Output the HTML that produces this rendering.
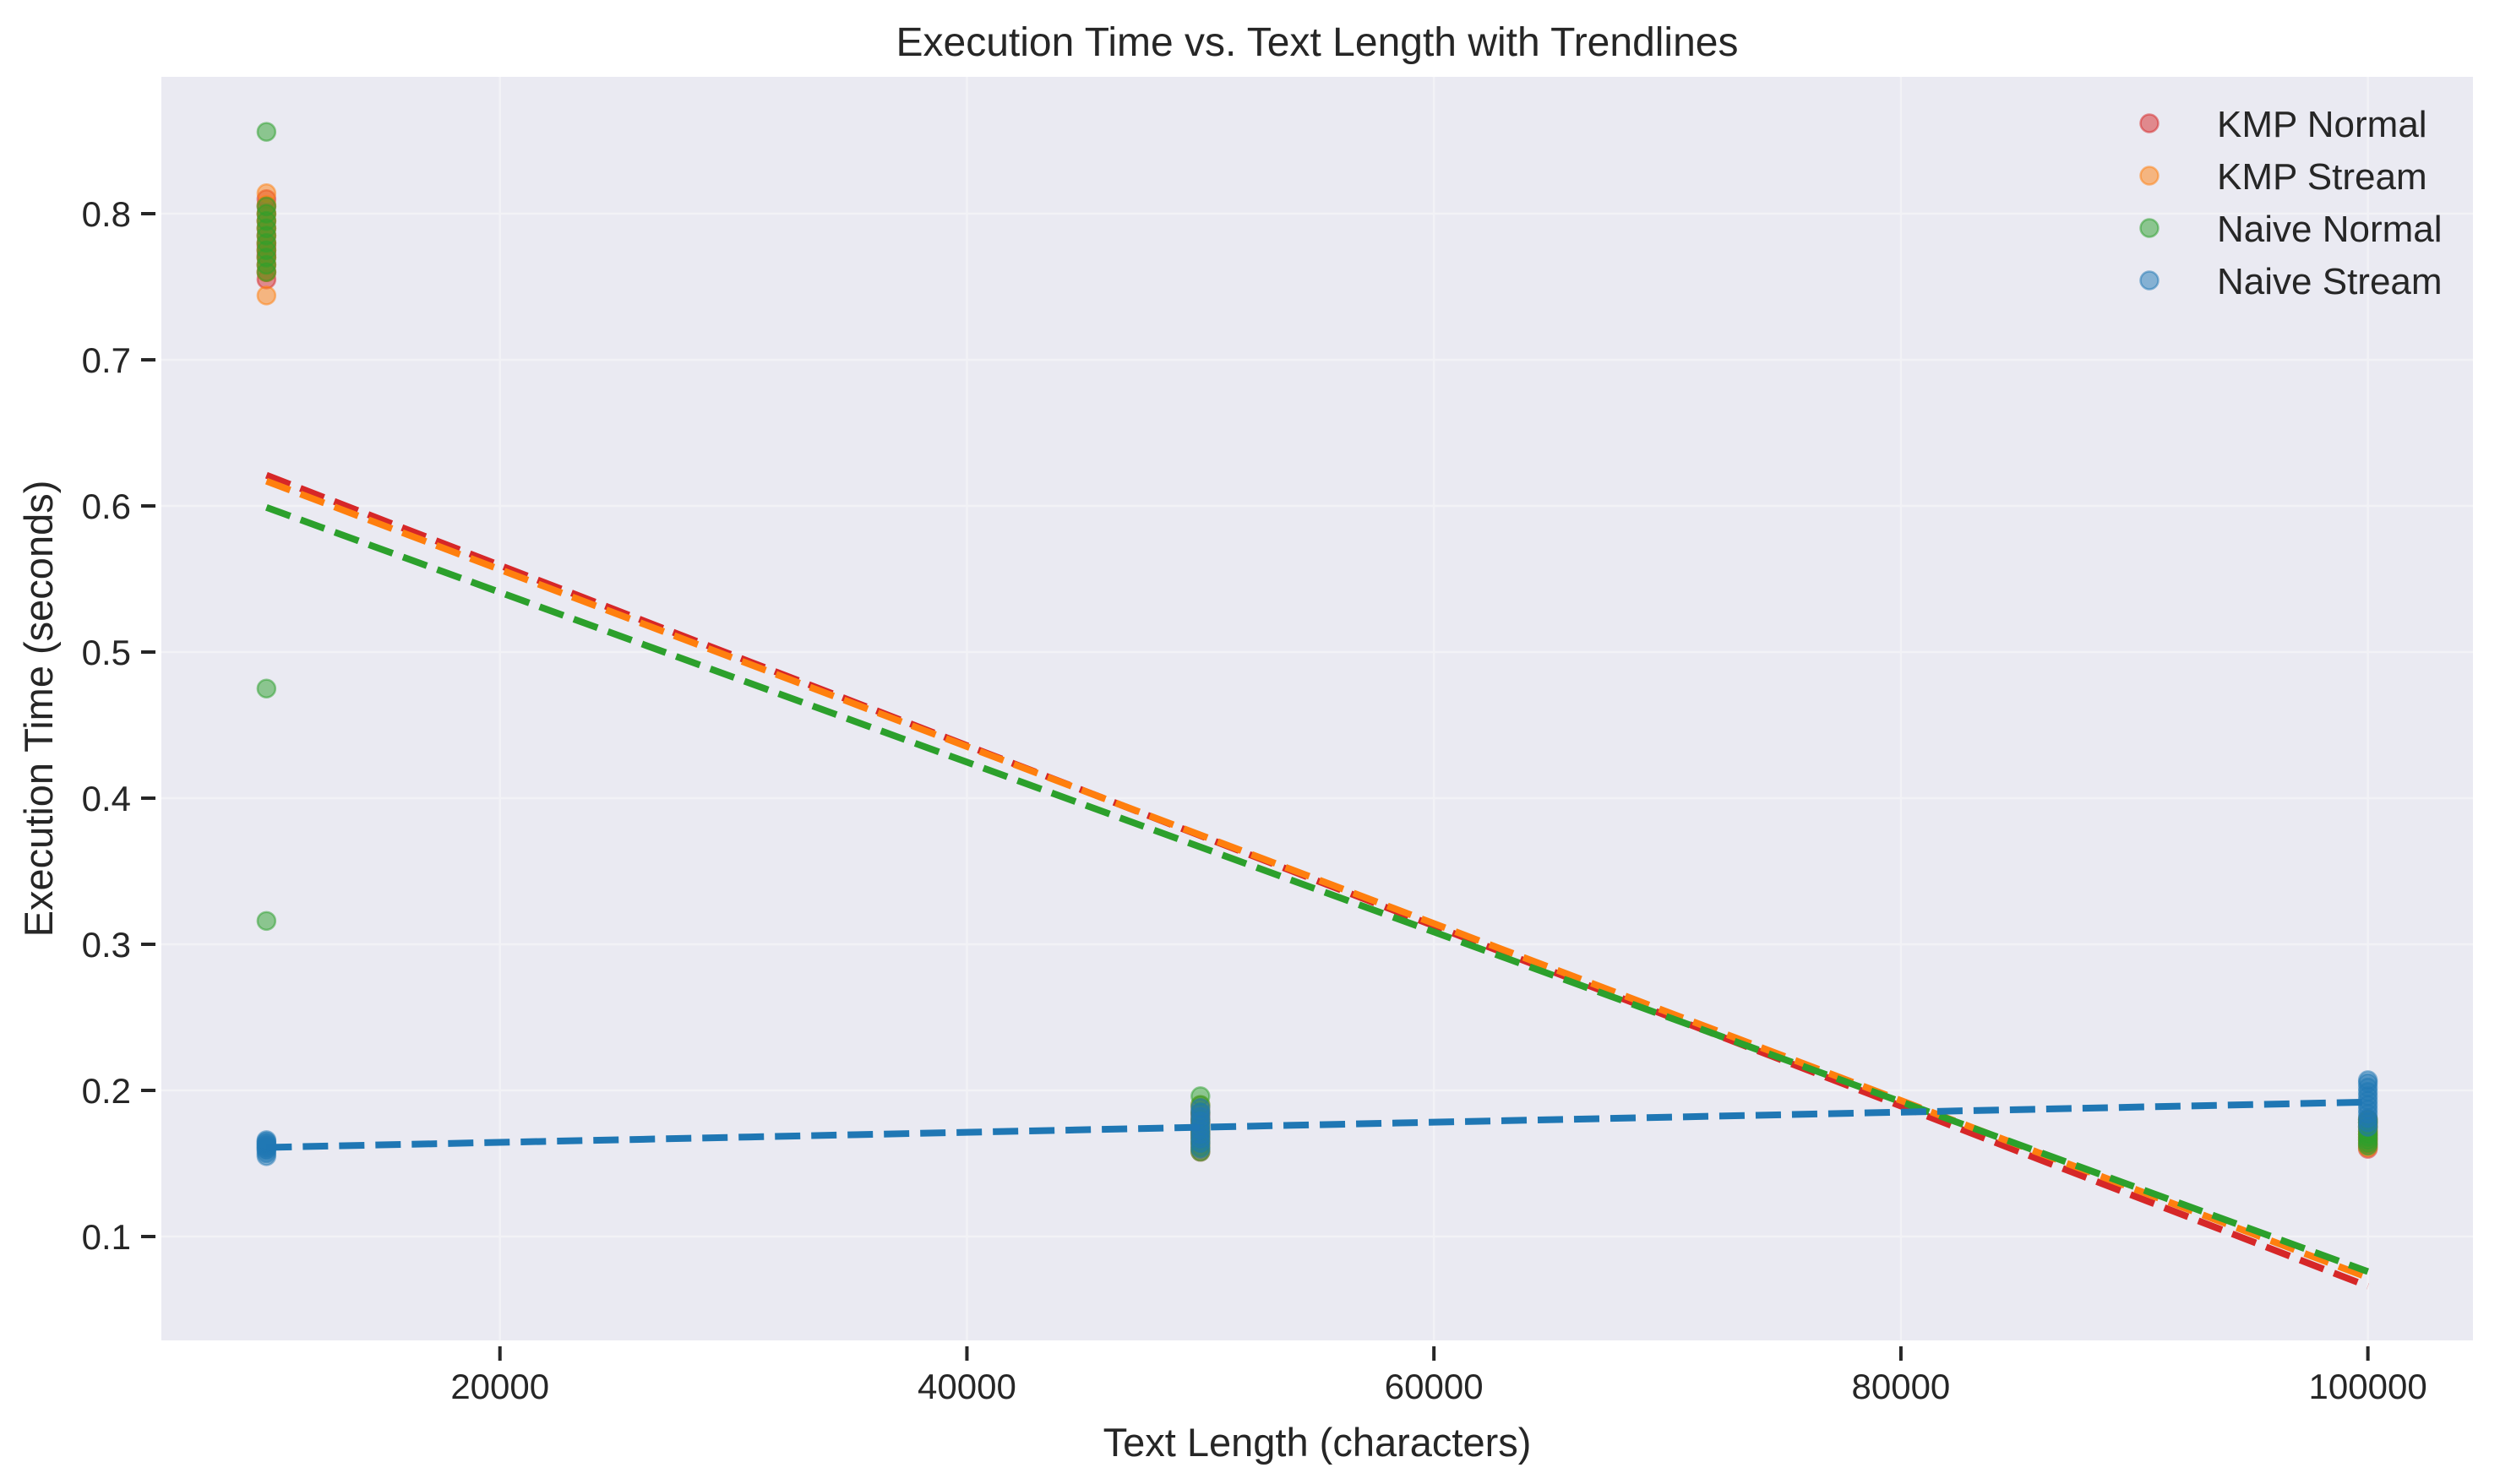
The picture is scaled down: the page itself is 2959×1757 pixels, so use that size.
<!DOCTYPE html>
<html><head><meta charset="utf-8">
<style>
html,body{margin:0;padding:0;background:#fff;}
svg{display:block;font-family:"Liberation Sans",Arial,sans-serif;}
</style></head>
<body>
<svg id="chart" width="2959" height="1757" viewBox="0 0 2959 1757" xmlns="http://www.w3.org/2000/svg">
<rect x="0" y="0" width="2959" height="1757" fill="#ffffff"/>
<rect x="191" y="91" width="2736" height="1496" fill="#eaeaf2"/>
<g id="grid"></g>
<g id="axes"></g>
<g id="marks"></g>
<text x="1559" y="66" text-anchor="middle" font-size="48" fill="#262626">Execution Time vs. Text Length with Trendlines</text>
<text x="1559" y="1724" text-anchor="middle" font-size="47" fill="#262626">Text Length (characters)</text>
<text x="0" y="0" transform="translate(62,839) rotate(-90)" text-anchor="middle" font-size="47" fill="#262626">Execution Time (seconds)</text>
<g id="legend"></g>
</svg>
<script>
const xTicks = [20000, 40000, 60000, 80000, 100000];
const yTicks = [0.1, 0.2, 0.3, 0.4, 0.5, 0.6, 0.7, 0.8];
const seriesNames = ["KMP Normal", "KMP Stream", "Naive Normal", "Naive Stream"];
const seriesColors = ["#d62728", "#ff7f0e", "#2ca02c", "#1f77b4"];
const textLengths = [10000, 50000, 100000];

const kmpNormal10k = [0.755,0.760,0.765,0.770,0.775,0.780,0.785,0.790,0.795,0.800,0.805,0.810,0.772,0.778];
const kmpNormal50k = [0.158,0.162,0.165,0.168,0.170,0.172,0.175,0.178,0.180,0.183,0.185];
const kmpNormal100k = [0.160,0.163,0.166,0.168,0.170,0.172,0.175,0.178,0.180];
const kmpStream10k = [0.744,0.760,0.765,0.770,0.775,0.780,0.785,0.790,0.795,0.800,0.806,0.814];
const kmpStream50k = [0.160,0.164,0.168,0.171,0.174,0.177,0.180,0.184,0.188,0.190];
const kmpStream100k = [0.161,0.164,0.167,0.170,0.173,0.176,0.178,0.180];
const naiveNormal10k = [0.856,0.475,0.316,0.760,0.765,0.770,0.775,0.780,0.785,0.790,0.795,0.800,0.805];
const naiveNormal50k = [0.158,0.161,0.164,0.167,0.170,0.173,0.176,0.180,0.185,0.190,0.196];
const naiveNormal100k = [0.162,0.164,0.166,0.168,0.170,0.172,0.175,0.178,0.180];
const naiveStream10k = [0.155,0.157,0.159,0.160,0.161,0.162,0.163,0.164,0.165,0.166];
const naiveStream50k = [0.160,0.164,0.167,0.170,0.173,0.176,0.179,0.182,0.185,0.188];
const naiveStream100k = [0.175,0.178,0.181,0.184,0.187,0.190,0.193,0.196,0.199,0.202,0.205,0.207];
const trendStart = [0.621, 0.617, 0.599, 0.161];
const trendEnd = [0.066, 0.072, 0.076, 0.192];

const seriesPoints = [
  [kmpNormal10k, kmpNormal50k, kmpNormal100k],
  [kmpStream10k, kmpStream50k, kmpStream100k],
  [naiveNormal10k, naiveNormal50k, naiveNormal100k],
  [naiveStream10k, naiveStream50k, naiveStream100k]
];

const NS = "http://www.w3.org/2000/svg";
const L = 191, R = 2927, T = 91, B = 1587;
const xMin = 5500, xMax = 104500, yMin = 0.02890, yMax = 0.89364;
function xs(v){ return L + (v - xMin) / (xMax - xMin) * (R - L); }
function ys(v){ return B - (v - yMin) / (yMax - yMin) * (B - T); }
function mk(tag, attrs, parent){
  const e = document.createElementNS(NS, tag);
  for (const k in attrs) e.setAttribute(k, attrs[k]);
  parent.appendChild(e);
  return e;
}
const grid = document.getElementById('grid');
const axes = document.getElementById('axes');
const marks = document.getElementById('marks');
const legend = document.getElementById('legend');

xTicks.forEach(function(t){
  const x = xs(t);
  const g = mk('line', {x1:x, x2:x, y1:T, y2:B, stroke:'#f2f2f6', 'stroke-width':2.5}, grid);
  
  
  const tk = mk('line', {x1:x, x2:x, y1:B+7, y2:B+24, stroke:'#262626', 'stroke-width':4}, axes);
  
  
  const lb = mk('text', {x:x, y:1656, 'text-anchor':'middle', 'font-size':42, fill:'#262626'}, axes);
  lb.textContent = String(t);
  
  
});
yTicks.forEach(function(t){
  const y = ys(t);
  const g = mk('line', {x1:L, x2:R, y1:y, y2:y, stroke:'#f2f2f6', 'stroke-width':2.5}, grid);
  
  
  const tk = mk('line', {x1:L-24, x2:L-7, y1:y, y2:y, stroke:'#262626', 'stroke-width':4}, axes);
  
  
  const lb = mk('text', {x:L-36, y:y+15, 'text-anchor':'end', 'font-size':42, fill:'#262626'}, axes);
  lb.textContent = t.toFixed(1);
  
  
});

seriesPoints.forEach(function(groups, si){
  const g = mk('g', {}, marks);
  
  
  groups.forEach(function(vals, gi){
    vals.forEach(function(v){
      const c = mk('circle', {cx:xs(textLengths[gi]), cy:ys(v), r:10.5, fill:seriesColors[si], 'fill-opacity':0.5, stroke:seriesColors[si], 'stroke-opacity':0.5, 'stroke-width':2.5}, g);
      
      
    });
  });
});
seriesNames.forEach(function(n, si){
  const ln = mk('line', {x1:xs(textLengths[0]), y1:ys(trendStart[si]), x2:xs(textLengths[2]), y2:ys(trendEnd[si]), stroke:seriesColors[si], 'stroke-width':8, 'stroke-dasharray':'30 13'}, marks);
  
  
});

const legY = [146, 208, 270, 332];
seriesNames.forEach(function(n, si){
  const c = mk('circle', {cx:2544, cy:legY[si], r:10.5, fill:seriesColors[si], 'fill-opacity':0.5, stroke:seriesColors[si], 'stroke-opacity':0.5, 'stroke-width':2.5}, legend);
  
  
  const t = mk('text', {x:2624, y:legY[si]+16, 'font-size':44, fill:'#262626'}, legend);
  t.textContent = n;
  
  
});
</script>
</body></html>
